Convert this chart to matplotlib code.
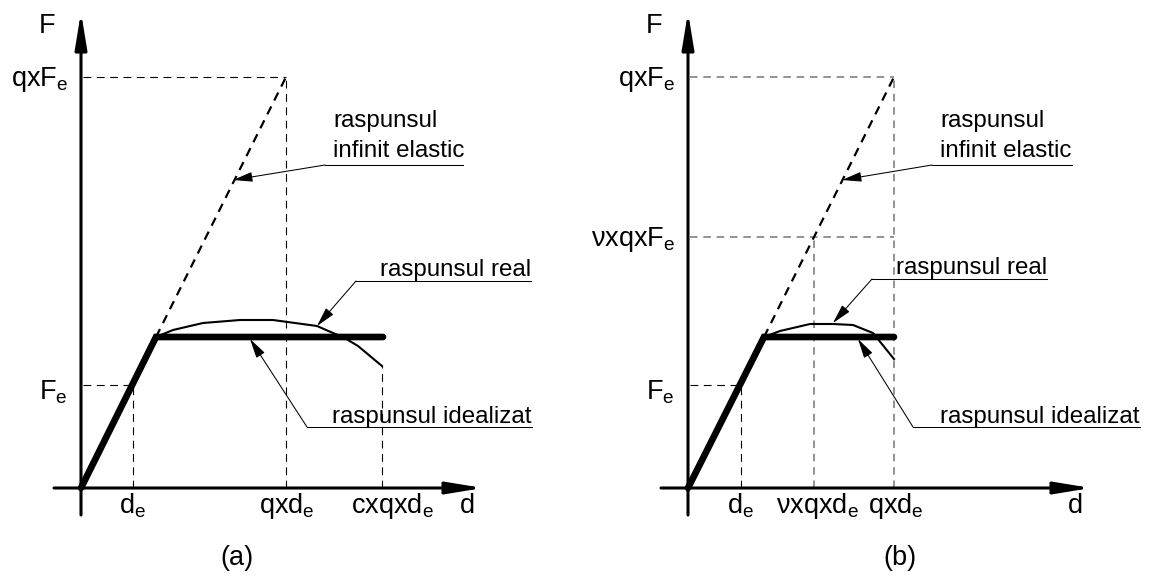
import numpy as np
import matplotlib.pyplot as plt

plt.rcParams['font.family'] = ['Liberation Sans', 'DejaVu Sans']
plt.rcParams['mathtext.fontset'] = 'custom'
plt.rcParams['mathtext.rm'] = 'Liberation Sans'
plt.rcParams['mathtext.it'] = 'Liberation Sans'
plt.rcParams['mathtext.default'] = 'regular'

# axis origins of the two diagrams (figure pixels, y down)
orig_a = (81, 488)
orig_b = (688, 488)

# diagram values, px from origin: d to the right, F upward
# panel (a)
a_F_levels = [103, 411]                 # Fe, qxFe
a_F_ends = [52, 205]                    # dashed guide runs to de / qxde
a_F_labels = ['F$_e$', 'qxF$_e$']
a_d_ticks = [52, 205, 301]              # de, qxde, cxqxde
a_d_tops = [103, 411, 122]
a_d_labels = ['d$_e$', 'qxd$_e$', 'cxqxd$_e$']
a_d_label_pos = [52, 206, 311]
a_ideal_d = [0, 75, 302]
a_ideal_F = [0, 151, 151]
a_elastic_d = [75, 205]
a_elastic_F = [151, 411]
a_real_d = [75, 92, 122, 159, 192, 236, 252, 262, 277, 301]
a_real_F = [151, 158, 165, 168, 168, 162, 155, 151, 142, 122]

# panel (b)
b_F_levels = [103, 251, 411]            # Fe, vxqxFe, qxFe
b_F_ends = [53, 206, 206]
b_F_labels = ['F$_e$', 'νxqxF$_e$', 'qxF$_e$']
b_d_ticks = [53, 126, 206]              # de, vxqxde, qxde
b_d_tops = [103, 251, 411]
b_d_labels = ['d$_e$', 'νxqxd$_e$', 'qxd$_e$']
b_d_label_pos = [53, 129, 208]
b_ideal_d = [0, 76, 206]
b_ideal_F = [0, 151, 151]
b_elastic_d = [76, 206]
b_elastic_F = [151, 411]
b_real_d = [76, 92, 122, 145, 165, 185, 206]
b_real_F = [151, 157, 164, 164, 163, 155, 129]

# leader lines: tip, knee, end
a_leaders = {'elastic': [(152, 308), (244, 323), (382, 323)],
             'real': [(236, 162), (275, 207), (450, 207)],
             'ideal': [(169, 149), (226, 61), (451, 61)]}
b_leaders = {'elastic': [(154, 308), (244, 323), (384, 323)],
             'real': [(145, 165), (184, 209), (359, 209)],
             'ideal': [(170, 149), (225, 61), (452, 61)]}

GRAY = '#808080'
FS_AX = 19.5
FS_TXT = 17.4


def P(o, d, F):
    return o[0] + np.asarray(d, float), o[1] - np.asarray(F, float)


def arrow(ax, o, p0, p1, lw, hl, hw, ms):
    x0, y0 = P(o, *p0)
    x1, y1 = P(o, *p1)
    ax.annotate('', xy=(x1, y1), xytext=(x0, y0),
                arrowprops=dict(arrowstyle='-|>,head_length=%s,head_width=%s' % (hl, hw),
                                lw=lw, color='k', shrinkA=0, shrinkB=0,
                                mutation_scale=ms))


def guide(ax, xs, ys, gray):
    if gray:
        ax.plot(xs, ys, color=GRAY, lw=1.2, dashes=(4.5, 3.5))
    else:
        ax.plot(xs, ys, color='k', lw=0.8, dashes=(7, 5))


def panel(ax, o, F_levels, F_ends, F_labels, d_ticks, d_tops, d_labels, d_pos,
          ideal, elastic, real, leaders, x_end, gray_F, gray_d, tag, tag_pos):
    # axes
    arrow(ax, o, (-27, 0), (x_end, 0), 2.2, 1.1, 0.18, 20)
    arrow(ax, o, (0, -27), (0, 476), 2.2, 1.1, 0.18, 20)
    x, y = P(o, -34, 462)
    ax.text(x, y, 'F', fontsize=FS_AX, ha='center', va='center')
    x, y = P(o, x_end - 16, -25)
    ax.text(x, y, 'd', fontsize=FS_AX, ha='center', va='baseline')

    # reference dashed lines
    for i, (Fl, de, lab) in enumerate(zip(F_levels, F_ends, F_labels)):
        xs, ys = P(o, [2, de], [Fl, Fl])
        guide(ax, xs, ys, i in gray_F)
        off = 14 if i == 0 else 9.5
        x, y = P(o, -13, Fl - off)
        ax.text(x, y, lab, fontsize=FS_AX, ha='right', va='baseline')
    for i, (dt, top, lab, dp) in enumerate(zip(d_ticks, d_tops, d_labels, d_pos)):
        xs, ys = P(o, [dt, dt], [0, top])
        guide(ax, xs, ys, i in gray_d)
        x, y = P(o, dp, -25)
        ax.text(x, y, lab, fontsize=FS_AX, ha='center', va='baseline')

    # elastic response (dashed)
    xs, ys = P(o, elastic[0], elastic[1])
    ax.plot(xs, ys, color='k', lw=1.6, dashes=(4, 3))
    # real response
    xs, ys = P(o, real[0], real[1])
    ax.plot(xs, ys, color='k', lw=1.5, solid_joinstyle='miter')
    # idealized response
    xs, ys = P(o, ideal[0], ideal[1])
    ax.plot(xs, ys, color='k', lw=4.8, solid_capstyle='round', solid_joinstyle='miter')

    # leaders with labels
    for key, (tip, knee, end) in leaders.items():
        xs, ys = P(o, [knee[0], end[0]], [knee[1], end[1]])
        ax.plot(xs, ys, color='k', lw=0.75)
        arrow(ax, o, knee, tip, 0.75, 0.6, 0.15, 20)
        if key == 'elastic':
            x, y = P(o, knee[0] + 8, knee[1] + 8)
            ax.text(x, y, 'infinit elastic', fontsize=FS_TXT, ha='left', va='baseline')
            x, y = P(o, knee[0] + 8, knee[1] + 38)
            ax.text(x, y, 'raspunsul', fontsize=FS_TXT, ha='left', va='baseline')
        elif key == 'real':
            x, y = P(o, end[0], end[1] + 5)
            ax.text(x, y, 'raspunsul real', fontsize=FS_TXT, ha='right', va='baseline')
        else:
            x, y = P(o, end[0], end[1] + 4)
            ax.text(x, y, 'raspunsul idealizat', fontsize=FS_TXT, ha='right', va='baseline')

    x, y = P(o, *tag_pos)
    ax.text(x, y, tag, fontsize=FS_AX, ha='center', va='center')


fig = plt.figure(figsize=(11.5, 5.77), dpi=100)
ax = fig.add_axes([0, 0, 1, 1])
ax.set_xlim(0, 1150)
ax.set_ylim(577, 0)
ax.axis('off')

panel(ax, orig_a, a_F_levels, a_F_ends, a_F_labels, a_d_ticks, a_d_tops,
      a_d_labels, a_d_label_pos,
      (a_ideal_d, a_ideal_F), (a_elastic_d, a_elastic_F), (a_real_d, a_real_F),
      a_leaders, 402, [], [], '(a)', (156, -70))
panel(ax, orig_b, b_F_levels, b_F_ends, b_F_labels, b_d_ticks, b_d_tops,
      b_d_labels, b_d_label_pos,
      (b_ideal_d, b_ideal_F), (b_elastic_d, b_elastic_F), (b_real_d, b_real_F),
      b_leaders, 403, [1, 2], [1, 2], '(b)', (212, -70))

fig.savefig('out.png', dpi=100)
